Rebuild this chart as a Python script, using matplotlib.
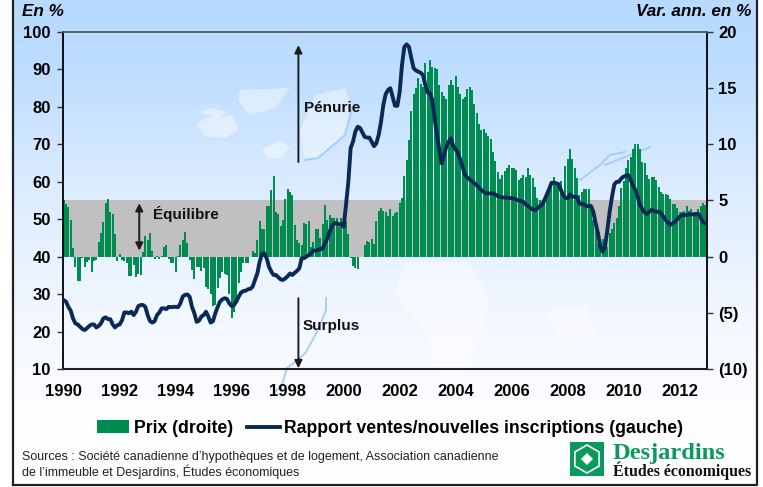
import numpy as np
import matplotlib
matplotlib.use("Agg")
import matplotlib.pyplot as plt
from matplotlib.patches import Polygon, Rectangle, RegularPolygon
from matplotlib.lines import Line2D

plt.rcParams['font.family'] = ['Liberation Sans', 'DejaVu Sans']

W, H = 763, 487
YEAR_LABELS = ['1990','1992','1994','1996','1998','2000','2002','2004','2006','2008','2010','2012']
LEFT_TICKS = [10,20,30,40,50,60,70,80,90,100]
RIGHT_TICKS = [-10,-5,0,5,10,15,20]
RIGHT_LABELS = ['(10)','(5)','0','5','10','15','20']

prix = [
 5.0,4.7,4.4,3.3,0.8,-0.9,-2.2,-2.2,-0.1,-0.9,-0.5,-0.3,
 -1.4,-0.4,-0.3,1.3,2.1,3.1,4.8,5.1,4.0,3.8,2.0,-0.4,
 0.2,-0.3,-0.4,-0.6,-1.7,-1.7,-0.7,-1.8,-1.5,-1.6,0.4,1.8,
 1.5,2.1,0.5,-0.2,0.1,-0.2,0.1,0.9,1.0,-0.2,-0.6,-0.6,
 -1.4,0.1,1.0,1.5,2.2,1.2,-0.3,-1.2,-2.0,-0.9,-0.9,-1.3,
 -1.0,-2.7,-2.9,-3.3,-4.4,-4.3,-2.8,-1.9,-1.4,-1.5,-1.6,-3.3,
 -5.5,-4.9,-4.0,-2.3,-1.4,-0.6,-0.6,-0.6,0.0,0.5,0.3,1.5,
 3.2,2.5,2.5,4.5,4.5,5.9,7.2,4.0,3.8,2.7,3.3,5.1,
 6.0,5.8,5.5,2.8,1.5,1.2,1.0,3.0,2.9,3.2,0.9,1.3,
 2.5,2.5,1.7,2.9,4.6,3.3,3.7,3.4,3.4,3.4,2.6,3.4,
 2.6,3.2,2.0,-0.1,-0.8,-1.0,-1.1,0.0,0.0,1.0,1.4,1.3,
 1.6,1.1,3.2,4.1,4.3,4.1,4.0,3.6,4.2,3.6,3.9,4.0,
 4.8,5.2,7.2,8.6,10.4,13.0,14.5,15.0,15.9,15.4,15.1,17.2,
 16.4,17.5,16.9,16.8,16.7,15.3,14.7,14.3,14.0,15.3,15.7,15.3,
 16.1,15.1,14.5,14.0,14.2,14.9,15.1,14.8,13.6,12.8,11.8,11.3,
 11.4,11.0,10.7,10.5,9.3,8.5,7.5,6.9,7.3,7.6,7.9,8.2,
 7.9,7.9,7.7,6.8,7.0,7.3,7.1,7.9,7.3,7.0,6.2,5.2,
 5.0,4.7,5.2,5.5,5.8,6.7,7.1,6.5,6.5,6.7,5.5,8.1,
 8.7,9.6,8.7,7.9,7.0,5.5,5.8,6.0,6.0,6.0,4.7,3.3,
 2.4,1.2,1.6,1.6,1.0,0.9,2.1,2.5,3.0,3.4,4.5,6.1,
 6.7,7.9,8.6,8.9,9.6,10.0,10.0,9.6,8.4,8.3,7.3,6.9,
 7.1,7.1,6.8,6.2,5.8,5.6,5.6,5.5,5.1,4.7,4.7,4.3,
 4.0,4.0,4.1,4.5,4.1,4.2,3.9,3.9,4.2,4.5,4.8,4.6,
]

rapport = [
 28.4,28.0,26.6,25.6,23.5,22.2,21.9,21.3,20.7,20.4,20.9,21.5,
 21.9,21.9,21.1,21.5,22.2,23.5,23.8,23.3,23.3,21.9,21.1,21.7,
 21.9,23.0,25.1,25.1,24.9,25.3,24.4,25.3,26.8,27.1,27.1,26.6,
 24.4,22.8,22.4,22.8,24.4,25.1,26.2,26.2,26.0,26.6,26.5,26.6,
 26.6,26.5,27.5,29.3,29.8,29.9,29.3,26.6,24.9,22.6,22.9,24.0,
 24.4,25.3,24.0,22.4,22.8,24.9,26.6,28.0,28.6,28.9,28.7,27.5,
 26.8,27.1,28.0,29.3,30.4,30.8,30.9,31.3,31.4,32.0,33.8,35.5,
 38.7,40.7,40.9,39.6,37.3,36.0,35.1,35.1,34.5,33.9,33.8,34.2,
 34.8,35.5,35.1,35.7,36.2,36.9,39.6,39.6,40.0,40.4,40.9,41.6,
 41.6,41.8,42.0,42.2,43.6,44.9,46.7,48.2,48.9,48.9,48.6,48.7,
 48.0,53.8,60.0,69.0,70.7,73.4,74.7,74.4,73.2,72.0,71.8,71.8,
 70.7,69.5,70.3,72.5,76.0,80.5,83.4,84.5,85.0,82.7,80.3,80.3,
 84.0,91.2,96.0,96.7,96.0,93.0,90.3,89.7,89.4,89.1,88.5,85.8,
 83.9,83.6,81.8,76.9,72.5,68.5,64.9,67.1,69.4,70.7,71.6,69.4,
 68.7,67.6,65.8,64.0,61.8,61.1,60.6,60.2,59.6,59.1,58.4,57.8,
 57.3,56.9,56.9,56.9,56.9,56.6,56.2,56.0,55.8,55.8,55.7,55.7,
 55.6,55.5,55.3,55.0,54.9,54.6,54.0,53.5,53.0,52.6,52.4,52.9,
 53.5,53.8,55.1,56.5,58.0,59.6,59.8,59.6,59.4,58.0,56.5,55.7,
 55.6,56.6,56.0,56.0,55.8,54.2,54.0,54.0,53.5,53.5,53.5,52.0,
 48.9,46.2,42.7,41.3,42.7,47.1,52.0,56.0,59.3,60.0,60.0,60.9,
 61.4,61.6,61.8,60.5,59.1,57.8,56.0,53.8,52.7,51.8,51.4,52.0,
 52.5,52.2,52.0,52.0,51.6,50.7,49.8,49.1,48.5,48.9,49.3,50.0,
 50.7,51.1,51.1,51.1,51.3,51.3,51.3,51.4,51.4,50.4,49.2,48.9,
]

GREEN = '#008c50'
NAVY = '#0a2a55'

fig = plt.figure(figsize=(W/100, H/100), dpi=100, facecolor='white')

# ---- background (pixel coordinates) ----
bg = fig.add_axes([0, 0, 1, 1], zorder=0)
stops_y = [0, 60, 190, 300, 400, 487]
stops_r = [184, 188, 220, 240, 252, 255]
stops_g = [218, 220, 236, 246, 253, 255]
ys = np.arange(H)
grad = np.dstack([np.interp(ys, stops_y, stops_r)[:, None],
                  np.interp(ys, stops_y, stops_g)[:, None],
                  np.full((H, 1), 255.0)]) / 255
bg.imshow(grad, extent=[13, 757, 485, 0], aspect='auto', zorder=0)
bg.set_xlim(0, W); bg.set_ylim(H, 0); bg.axis('off')

# faint world map behind the chart (decoration)
LAND = [
 [(300,132),(315,95),(345,88),(352,108),(345,135),(318,158),(305,160)],
 [(196,125),(205,118),(232,115),(238,130),(225,138),(205,136)],
 [(198,112),(212,108),(228,112),(218,118)],
 [(240,90),(290,88),(275,108),(250,115),(238,100)],
 [(262,150),(280,140),(290,148),(280,158),(268,158)],
 [(412,100),(445,95),(440,110),(415,112)],
 [(405,262),(470,262),(490,300),(470,365),(445,388),(425,330),(395,295)],
 [(545,312),(585,305),(598,335),(565,345)],
]
for pts in LAND:
    bg.add_patch(Polygon(pts, closed=True, fc='white', ec='none', alpha=0.42, zorder=1))
COAST = [
 [(326,298),(326,310),(318,330),(306,352),(298,360),(287,368),(282,385),(275,392)],
 [(305,160),(318,158),(345,135),(352,108)],
 [(580,180),(600,165),(610,155),(625,152)],
 [(605,165),(630,155),(650,147)],
]
for pts in COAST:
    xs, ys_ = zip(*pts)
    bg.plot(xs, ys_, color='#9fcbfb', lw=1.4, alpha=0.9, zorder=1)

# outer frame
bg.plot([13, 13], [0, 485], color='#222222', lw=1.6, zorder=2)
bg.plot([13, 757, 757], [485, 485, 0], color='#222222', lw=1.6, zorder=2)

# ---- chart axes ----
L, R, T, B = 62.5, 706.5, 32.0, 369.0
n = len(prix)
x = np.arange(n)

ax2 = fig.add_axes([L/W, 1-B/H, (R-L)/W, (B-T)/H], zorder=1)
ax2.patch.set_visible(False)
ax2.axhspan(0, 5, color='#c0c0c0', lw=0, zorder=1)
ax2.bar(x, prix, width=0.72, color=GREEN, lw=0, zorder=2)
ax2.set_ylim(-10, 20)
ax2.set_xlim(-0.5, n-0.5)
ax2.yaxis.tick_right()
ax2.set_yticks(RIGHT_TICKS)
ax2.set_yticklabels(RIGHT_LABELS)

ax = fig.add_axes([L/W, 1-B/H, (R-L)/W, (B-T)/H], zorder=2)
ax.patch.set_visible(False)
ax.plot(x, rapport, color=NAVY, lw=2.8, solid_joinstyle='round', zorder=5)
ax.set_ylim(10, 100)
ax.set_xlim(-0.5, n-0.5)
ax.set_yticks(LEFT_TICKS)
ax.set_xticks(np.arange(0, n, 24))
ax.set_xticklabels(YEAR_LABELS)

for a in (ax, ax2):
    a.tick_params(axis='y', length=4.5, width=1, color='#333333', labelsize=12, pad=4)
    for lab in a.get_yticklabels():
        lab.set_fontweight('bold')
    for s in a.spines.values():
        s.set_visible(False)
ax2.set_xticks([])
ax.tick_params(axis='x', length=0, labelsize=12, pad=11)
for lab in ax.get_xticklabels():
    lab.set_fontweight('bold')

ax.spines['left'].set_visible(True); ax.spines['left'].set_linewidth(1.3)
ax2.spines['right'].set_visible(True); ax2.spines['right'].set_linewidth(1.3)
ax.spines['top'].set_visible(True); ax.spines['top'].set_color('#555555'); ax.spines['top'].set_linewidth(1.3)
ax.spines['bottom'].set_visible(True); ax.spines['bottom'].set_color('#222222'); ax.spines['bottom'].set_linewidth(1.5)

# annotations
arrow = dict(arrowstyle='-|>,head_width=0.22,head_length=0.45', color='#1c1c1c', lw=1.4, shrinkA=0, shrinkB=0)
ax.annotate('', xy=(100.6, 96.5), xytext=(100.6, 65.3), arrowprops=arrow, zorder=4)
ax.annotate('', xy=(100.6, 10.2), xytext=(100.6, 28.9), arrowprops=arrow, zorder=4)
arrow2 = dict(arrowstyle='<|-|>,head_width=0.22,head_length=0.45', color='#1c1c1c', lw=1.4, shrinkA=0, shrinkB=0)
ax.annotate('', xy=(32.4, 54.3), xytext=(32.4, 41.6), arrowprops=arrow2, zorder=4)
ax.text(102.8, 79.7, 'Pénurie', fontsize=11, fontweight='bold', va='center', color='#111111')
ax.text(38.3, 51.4, 'Équilibre', fontsize=11, fontweight='bold', va='center', color='#111111')
ax.text(102.6, 21.4, 'Surplus', fontsize=11, fontweight='bold', va='center', color='#111111')

# legend
handles = [Rectangle((0, 0), 1, 1, fc=GREEN, lw=0),
           Line2D([], [], color=NAVY, lw=2.8)]
fig.legend(handles, ['Prix (droite)', 'Rapport ventes/nouvelles inscriptions (gauche)'],
           loc='center', bbox_to_anchor=(390/W, 1-428.5/H), ncol=2, frameon=False,
           prop=dict(weight='bold', size=12.7), handlelength=1.85, handleheight=0.75,
           columnspacing=0.8, handletextpad=0.25, borderpad=0)

# header texts
fig.text(22/W, 1-11/H, 'En %', fontsize=12.3, fontweight='bold', style='italic', va='center')
fig.text(751/W, 1-11/H, 'Var. ann. en %', fontsize=12.3, fontweight='bold', style='italic', va='center', ha='right')

# sources
fig.text(22/W, 1-457/H, 'Sources : Société canadienne d’hypothèques et de logement, Association canadienne',
         fontsize=9.0, color='#222222', va='center')
fig.text(22/W, 1-472/H, 'de l’immeuble et Desjardins, Études économiques',
         fontsize=9.0, color='#222222', va='center')

# Desjardins logo
bg.add_patch(Rectangle((570, 442), 34, 34, fc='#0a9a5c', lw=0, zorder=3))
bg.add_patch(RegularPolygon((587, 459), 6, radius=14, fc='none', ec='white', lw=1.2, zorder=4))
bg.add_patch(RegularPolygon((587, 459), 4, radius=6, fc='white', lw=0, zorder=4))
fig.text(613/W, 1-453/H, 'Desjardins', family='Liberation Serif', fontsize=17.6, fontweight='bold',
         color='#0a9a5c', va='center')
fig.text(613/W, 1-471/H, 'Études économiques', family='Liberation Serif', fontsize=11.4, fontweight='bold',
         color='#111111', va='center')

fig.savefig('out.png', dpi=100)
